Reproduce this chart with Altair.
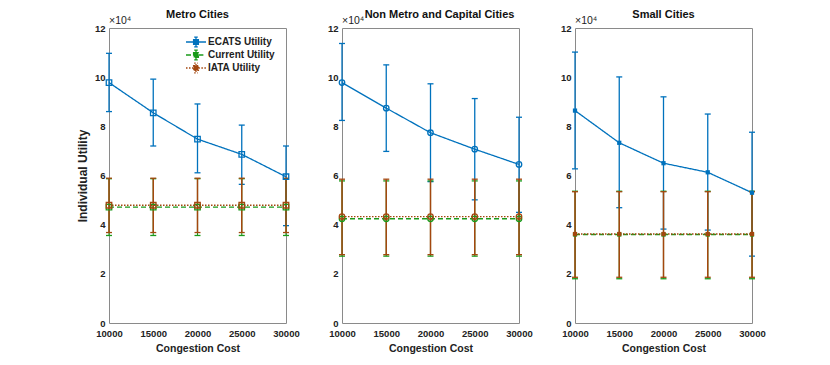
import altair as alt
import pandas as pd

# ---------------- data ----------------
x_vals = [10000, 15000, 20000, 25000, 30000]
series_names = ["ECATS Utility", "Current Utility", "IATA Utility"]
panel_titles = ["Metro Cities", "Non Metro and Capital Cities", "Small Cities"]

# Metro Cities
metro_ecats_y = [97800, 85500, 74800, 68600, 59500]
metro_ecats_lo = [86000, 72000, 61100, 56400, 39600]
metro_ecats_hi = [109700, 99200, 89100, 80500, 72000]
metro_current_y = [47100, 47100, 47100, 47100, 47100]
metro_current_lo = [35600, 35600, 35600, 35600, 35600]
metro_current_hi = [58700, 58700, 58700, 58700, 58700]
metro_iata_y = [47900, 47900, 47900, 47900, 47900]
metro_iata_lo = [36800, 36800, 36800, 36800, 36800]
metro_iata_hi = [58900, 58900, 58900, 58900, 58900]

# Non Metro and Capital Cities
nonmetro_ecats_y = [97800, 87400, 77400, 70700, 64500]
nonmetro_ecats_lo = [82400, 69800, 57500, 50100, 45000]
nonmetro_ecats_hi = [113700, 105000, 97300, 91300, 83700]
nonmetro_current_y = [42400, 42400, 42400, 42400, 42400]
nonmetro_current_lo = [27200, 27200, 27200, 27200, 27200]
nonmetro_current_hi = [57800, 57800, 57800, 57800, 57800]
nonmetro_iata_y = [43300, 43300, 43300, 43300, 43300]
nonmetro_iata_lo = [27800, 27800, 27800, 27800, 27800]
nonmetro_iata_hi = [58500, 58500, 58500, 58500, 58500]

# Small Cities
small_ecats_y = [86400, 73300, 65000, 61300, 53000]
small_ecats_lo = [62700, 46900, 38200, 37800, 27200]
small_ecats_hi = [110200, 100100, 92000, 85000, 77600]
small_current_y = [36000, 36000, 36000, 36000, 36000]
small_current_lo = [18000, 18000, 18000, 18000, 18000]
small_current_hi = [53600, 53600, 53600, 53600, 53600]
small_iata_y = [36200, 36200, 36200, 36200, 36200]
small_iata_lo = [18600, 18600, 18600, 18600, 18600]
small_iata_hi = [53400, 53400, 53400, 53400, 53400]

y_ticks = [0, 20000, 40000, 60000, 80000, 100000, 120000]
colors = ["#0072BD", "#1A9A1A", "#A3470F"]
dashes = [[1, 0], [5, 3], [1.5, 1.5]]
bar_widths = [1.3, 1.1, 1.5]

panel_data = {
    "Metro Cities": [
        (metro_ecats_y, metro_ecats_lo, metro_ecats_hi),
        (metro_current_y, metro_current_lo, metro_current_hi),
        (metro_iata_y, metro_iata_lo, metro_iata_hi),
    ],
    "Non Metro and Capital Cities": [
        (nonmetro_ecats_y, nonmetro_ecats_lo, nonmetro_ecats_hi),
        (nonmetro_current_y, nonmetro_current_lo, nonmetro_current_hi),
        (nonmetro_iata_y, nonmetro_iata_lo, nonmetro_iata_hi),
    ],
    "Small Cities": [
        (small_ecats_y, small_ecats_lo, small_ecats_hi),
        (small_current_y, small_current_lo, small_current_hi),
        (small_iata_y, small_iata_lo, small_iata_hi),
    ],
}
shapes = {"Metro Cities": "square", "Non Metro and Capital Cities": "circle", "Small Cities": "square"}
title_dx = {"Metro Cities": 0, "Non Metro and Capital Cities": 9, "Small Cities": 0}

rows = []
for p, lists in panel_data.items():
    for s, (ys, los, his) in zip(series_names, lists):
        for i, xv in enumerate(x_vals):
            rows.append({"panel": p, "series": s, "order": series_names.index(s),
                         "x": xv, "y": ys[i], "lo": los[i], "hi": his[i]})
df = pd.DataFrame(rows)

FONT = "Liberation Sans"
# legend glyph: line with a small error bar and square marker (unit = 3 px)
legend_path = ("M-1,0H1.53M3.13,0H5.67"
               "M1.53,-0.8H3.13V0.8H1.53Z"
               "M2.33,-0.8V-1.6M2.33,0.8V1.6M1.73,-1.6H2.93M1.73,1.6H2.93")


def make_panel(name, first):
    sub = df[df.panel == name]
    base = alt.Chart(sub)
    xenc = alt.X("x:Q", scale=alt.Scale(domain=[10000, 30000], nice=False, zero=False),
                 axis=alt.Axis(values=x_vals, format="d", title="Congestion Cost",
                               ticks=False, domain=False, grid=False, labelPadding=5,
                               labelFlush=False, labelOverlap=False,
                               titleFontSize=10.5, titlePadding=6))
    yaxis = alt.Axis(values=y_ticks, labelExpr="datum.value / 10000",
                     title="Individual Utility" if first else None,
                     ticks=False, domain=False, grid=False, labelPadding=4,
                     titleFontSize=12, titlePadding=5)
    yenc = alt.Y("y:Q", scale=alt.Scale(domain=[0, 120000], nice=False), axis=yaxis)
    cscale = alt.Scale(domain=series_names, range=colors)
    dscale = alt.Scale(domain=series_names, range=dashes)
    col_nl = alt.Color("series:N", scale=cscale, legend=None)

    # error bars: one layer per series, in drawing order (ECATS, Current, IATA on top)
    bar_layers = []
    for s, w in zip(series_names, bar_widths):
        sb = base.transform_filter(alt.datum.series == s)
        bar_layers.append(sb.mark_rule(strokeWidth=w).encode(
            x="x:Q", y="lo:Q", y2="hi:Q", color=col_nl))
        bar_layers.append(sb.mark_tick(orient="horizontal", size=6, thickness=1.3,
                                       opacity=1).encode(x="x:Q", y="lo:Q", color=col_nl))
        bar_layers.append(sb.mark_tick(orient="horizontal", size=6, thickness=1.3,
                                       opacity=1).encode(x="x:Q", y="hi:Q", color=col_nl))

    if first:
        leg = alt.Legend(title=None, orient="none", legendX=73, legendY=7,
                         symbolType=legend_path, symbolSize=36, symbolStrokeWidth=1.3,
                         labelFont=FONT, labelFontWeight="bold", labelFontSize=10,
                         labelColor="#222", fillColor="white", padding=2,
                         rowPadding=-3, labelOffset=14, symbolFillColor="white")
        col = alt.Color("series:N", scale=cscale, legend=leg, sort=series_names)
        dash = alt.StrokeDash("series:N", scale=dscale, legend=leg, sort=series_names)
    else:
        col = col_nl
        dash = alt.StrokeDash("series:N", scale=dscale, legend=None)

    line = base.mark_line(strokeWidth=1.3).encode(
        x=xenc, y=yenc, color=col, strokeDash=dash, detail="series:N")
    pts = base.mark_point(shape=shapes[name], size=30 if name != "Small Cities" else 18,
                          filled=(name == "Small Cities"), strokeWidth=1.3, opacity=1).encode(
        x="x:Q", y="y:Q", color=col_nl, order="order:Q")
    exp = alt.Chart(pd.DataFrame({"t": ["×10⁴"]})).mark_text(
        align="left", baseline="bottom", dy=-2, fontSize=10.5, font=FONT, color="#222").encode(
        x=alt.datum(10000), y=alt.datum(120000), text="t:N")

    return alt.layer(line, *bar_layers, pts, exp).properties(
        width=177, height=295,
        title=alt.TitleParams(name, fontSize=11, font=FONT, fontWeight="bold",
                              color="#111", offset=-4, dx=title_dx[name]))


panels = [make_panel(n, i == 0) for i, n in enumerate(panel_titles)]
chart = alt.hconcat(*panels, spacing=26).resolve_scale(
    color="independent", strokeDash="independent"
).properties(
    padding={"left": 67, "top": 0, "right": 5, "bottom": 2}
).configure_view(
    stroke="#8a8a8a", strokeWidth=1
).configure_axis(
    labelFont=FONT, titleFont=FONT, labelFontWeight="bold", titleFontWeight="bold",
    labelFontSize=9.5, labelColor="#222", titleColor="#222"
)

chart.save("out.html", embed_options={"renderer": "svg", "actions": False})
